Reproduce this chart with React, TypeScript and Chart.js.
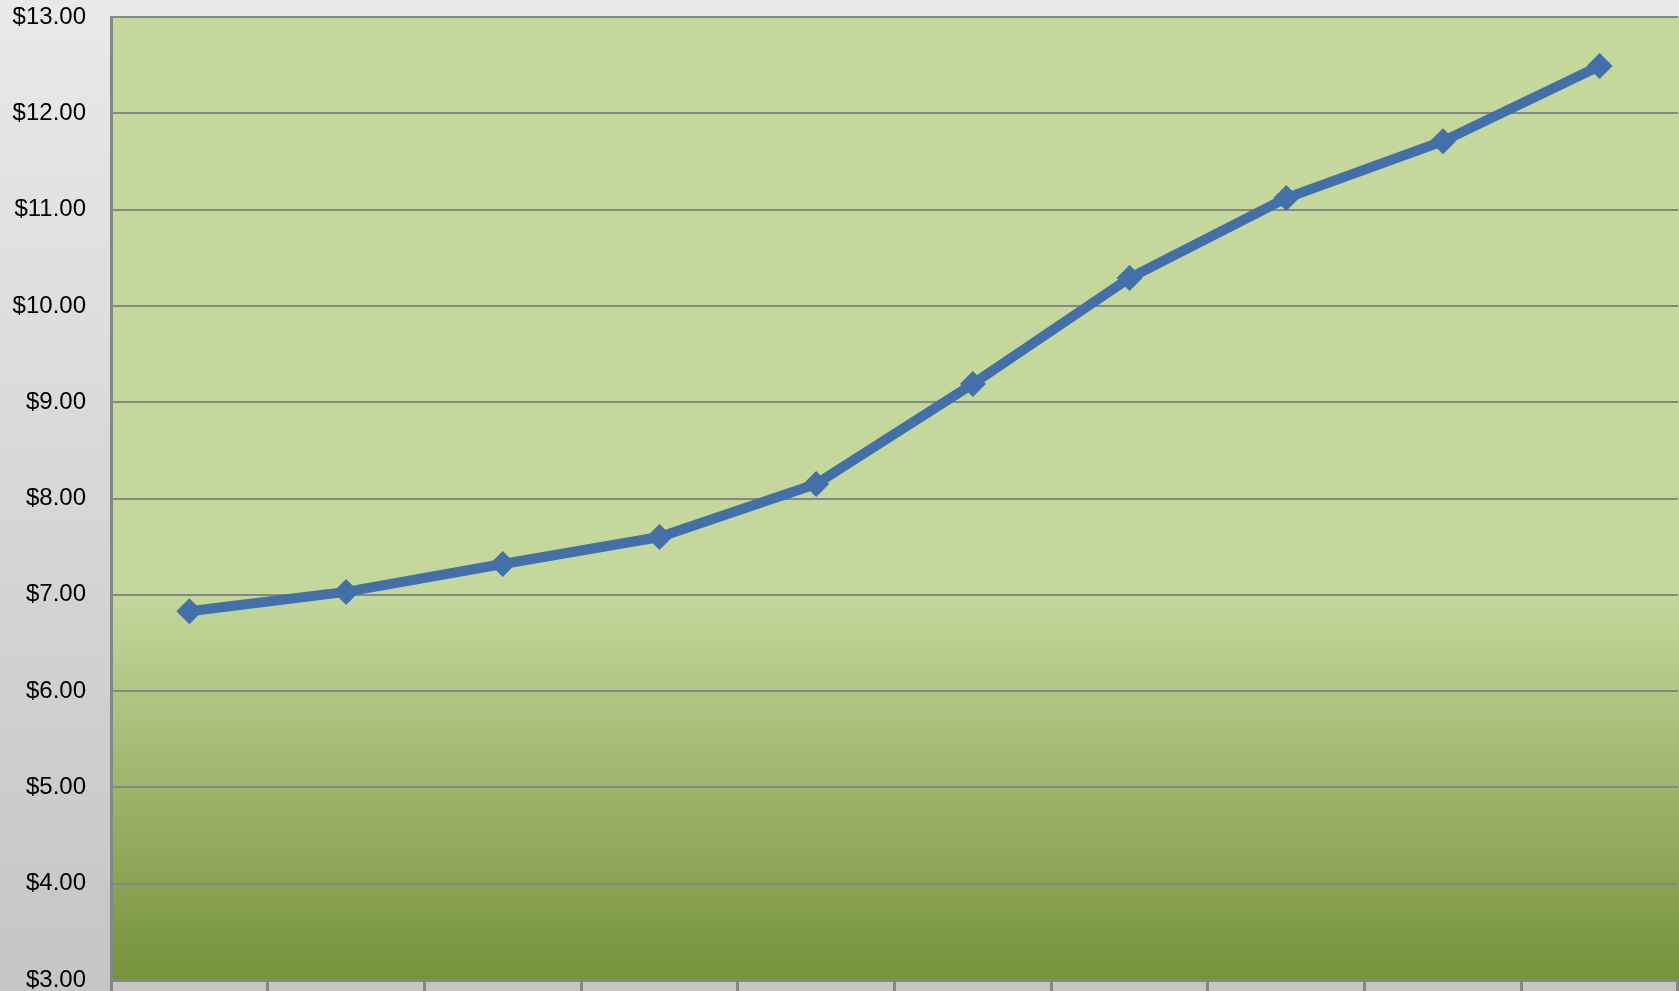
import React, { useEffect, useRef } from "react";
import { Chart, registerables } from "chart.js";

Chart.register(...registerables);

const categories = ["1", "2", "3", "4", "5", "6", "7", "8", "9", "10"];
const prices = [6.83, 7.03, 7.32, 7.6, 8.15, 9.19, 10.29, 11.12, 11.71, 12.49];
const yMin = 3;
const yMax = 13;

const bgPlugin = {
  id: "bgPlugin",
  beforeDraw(chart: any) {
    const { ctx, width, height, chartArea } = chart;
    ctx.save();
    const g = ctx.createLinearGradient(0, 0, 0, height);
    g.addColorStop(0, "#e9e9e9");
    g.addColorStop(1, "#c5c5c5");
    ctx.fillStyle = g;
    ctx.fillRect(0, 0, width, height);
    const { left, right, top, bottom } = chartArea;
    const g2 = ctx.createLinearGradient(0, top, 0, bottom);
    g2.addColorStop(0, "#c4d79c");
    g2.addColorStop(0.6, "#c4d79c");
    g2.addColorStop(1, "#76923b");
    ctx.fillStyle = g2;
    ctx.fillRect(left, top, right - left + 2, bottom - top);
    ctx.restore();
  },
};

export default function App() {
  const ref = useRef<HTMLCanvasElement | null>(null);
  useEffect(() => {
    document.body.style.margin = "0";
    const chart = new Chart(ref.current as HTMLCanvasElement, {
      type: "line",
      data: {
        labels: categories,
        datasets: [
          {
            data: prices,
            borderColor: "#4470aa",
            backgroundColor: "#4470aa",
            borderWidth: 10,
            pointStyle: "rectRot",
            pointRadius: 13,
            pointBorderWidth: 0,
            tension: 0,
          },
        ],
      },
      options: {
        animation: false,
        responsive: false,
        maintainAspectRatio: false,
        layout: { autoPadding: false, padding: { top: 17, right: 1, left: 0, bottom: 0 } },
        plugins: { legend: { display: false }, tooltip: { enabled: false } },
        scales: {
          x: {
            offset: true,
            ticks: { display: false },
            grid: {
              drawOnChartArea: false,
              drawTicks: true,
              tickLength: 11,
              color: "#868686",
              lineWidth: 3,
              offset: true,
            },
            border: { color: "#868686", width: 3 },
            afterFit(scale: any) {
              scale.height = 11;
              scale.paddingLeft = 0;
              scale.paddingRight = 0;
              scale.paddingTop = 0;
              scale.paddingBottom = 0;
            },
          },
          y: {
            min: yMin,
            max: yMax,
            ticks: {
              stepSize: 1,
              padding: 25,
              color: "#000000",
              font: { family: "Liberation Sans", size: 24 },
              callback: (v: any) => "$" + Number(v).toFixed(2),
            },
            grid: { color: "#868686", lineWidth: 2, drawTicks: false },
            border: { color: "#868686", width: 3 },
            afterFit(scale: any) {
              scale.width = 111;
              scale.paddingTop = 0;
              scale.paddingBottom = 0;
              scale.paddingLeft = 0;
              scale.paddingRight = 0;
            },
          },
        },
      },
      plugins: [bgPlugin],
    });
    return () => chart.destroy();
  }, []);
  return (
    <div style={{ position: "fixed", left: 0, top: 0, width: 1679, height: 991 }}>
      <canvas ref={ref} width={1679} height={991} style={{ width: 1679, height: 991 }} />
    </div>
  );
}
